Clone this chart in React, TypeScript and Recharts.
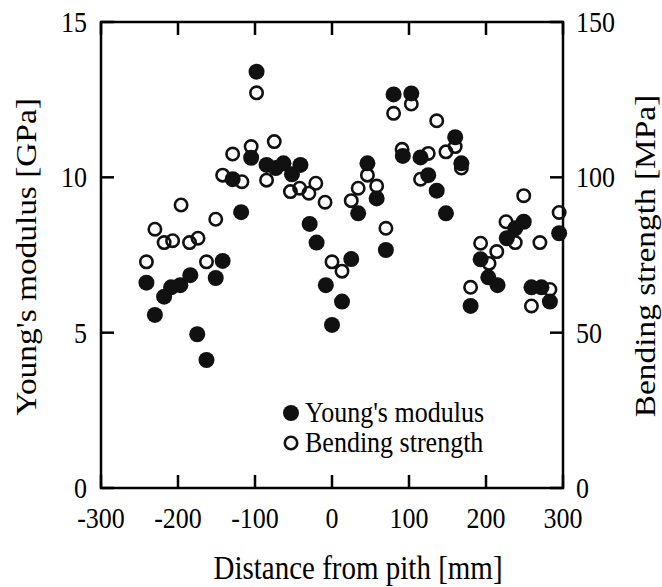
import React from 'react';
import { ScatterChart, Scatter, XAxis, YAxis, ReferenceArea, Legend } from 'recharts';

// Young's modulus [GPa] vs distance from pith [mm]
const youngDistance = [
  -241, -230, -218, -209, -197, -184, -175, -163, -151, -142, -129, -118, -105, -98,
  -85, -73, -63, -52, -41, -29, -20, -8, 0, 13, 25, 34, 46, 58, 70, 80, 92, 103,
  115, 125, 136, 148, 160, 168, 180, 193, 203, 215, 227, 238, 249, 259, 272, 283, 295,
];
const youngModulus = [
  6.61, 5.57, 6.16, 6.46, 6.53, 6.85, 4.95, 4.12, 6.76, 7.31, 9.94, 8.88, 10.63, 13.4,
  10.4, 10.3, 10.45, 10.1, 10.4, 8.5, 7.9, 6.53, 5.25, 6.0, 7.37, 8.84, 10.45, 9.32, 7.66, 12.67, 10.69, 12.7,
  10.64, 10.07, 9.57, 8.84, 11.29, 10.45, 5.86, 7.36, 6.78, 6.53, 8.04, 8.36, 8.57, 6.46, 6.46, 6.0, 8.2,
];

// Bending strength [MPa] vs distance from pith [mm]
const bendDistance = [
  -241, -230, -218, -207, -196, -185, -174, -163, -151, -142, -129, -117, -105, -98,
  -85, -75, -54, -42, -30, -21, -9, 0, 13, 25, 34, 46, 58, 70, 80, 91, 103,
  115, 125, 136, 148, 160, 168, 180, 193, 204, 214, 226, 238, 249, 259, 270, 283, 295,
];
const bendStrength = [
  72.8, 83.3, 79.0, 79.6, 91.1, 79.0, 80.4, 72.8, 86.5, 100.7, 107.5, 98.6, 109.9, 127.2,
  99.1, 111.5, 95.4, 96.5, 94.9, 98.1, 92.0, 72.8, 69.8, 92.5, 96.5, 100.7, 97.2, 83.6, 120.6, 109.0, 123.6,
  99.4, 107.7, 118.2, 108.2, 109.9, 103.0, 64.6, 78.8, 72.3, 76.1, 85.7, 79.0, 94.1, 58.6, 79.0, 63.9, 88.7,
];

const xTicks = [-300, -200, -100, 0, 100, 200, 300];
const leftTicks = [0, 5, 10, 15];
const rightTicks = [0, 50, 100, 150];

const youngData = youngDistance.map((x, i) => ({ x, y: youngModulus[i] }));
const bendData = bendDistance.map((x, i) => ({ x, y: bendStrength[i] }));

const PLOT_LEFT = 101;
const PLOT_RIGHT = 563;
const PLOT_TOP = 22;
const PLOT_BOTTOM = 488;
const TICK = 13;
const FONT = '"Liberation Serif", "Times New Roman", serif';
const FS = 26; // tick + legend text
const TITLE_FS = 29;
const STRETCH = 1.15; // the scanned figure's text is a bit taller than wide

// text drawn at (x, y), stretched vertically on the page
const Txt = ({ x, y, anchor = 'middle', size = FS, rotate = 0, children }: any) => (
  <text
    transform={`translate(${x},${y}) scale(1,${STRETCH}) rotate(${rotate})`}
    textAnchor={anchor}
    dominantBaseline="central"
    fontFamily={FONT}
    fontSize={size}
    fill="#000"
  >
    {children}
  </text>
);

const BottomTick = (props: any) => {
  const { x, payload } = props;
  return (
    <g>
      <line x1={x} x2={x} y1={PLOT_BOTTOM} y2={PLOT_BOTTOM - TICK} stroke="#000" strokeWidth={2.5} />
      <line x1={x} x2={x} y1={PLOT_TOP} y2={PLOT_TOP + TICK} stroke="#000" strokeWidth={2.5} />
      <Txt x={x} y={518}>{payload.value}</Txt>
    </g>
  );
};

const LeftTick = (props: any) => {
  const { y, payload } = props;
  return (
    <g>
      <line x1={PLOT_LEFT} x2={PLOT_LEFT + TICK} y1={y} y2={y} stroke="#000" strokeWidth={2.5} />
      <Txt x={87} y={y} anchor="end">{payload.value}</Txt>
    </g>
  );
};

const RightTick = (props: any) => {
  const { y, payload } = props;
  return (
    <g>
      <line x1={PLOT_RIGHT} x2={PLOT_RIGHT - TICK} y1={y} y2={y} stroke="#000" strokeWidth={2.5} />
      <Txt x={576} y={y} anchor="start">{payload.value}</Txt>
    </g>
  );
};

const XTitle = () => (
  <Txt x={358} y={568} size={TITLE_FS}>Distance from pith [mm]</Txt>
);
const LeftTitle = () => (
  <Txt x={26} y={257} size={TITLE_FS} rotate={-90}>Young's modulus [GPa]</Txt>
);
const RightTitle = () => (
  <Txt x={645} y={256} size={TITLE_FS} rotate={-90}>Bending strength [MPa]</Txt>
);

const FilledDot = (p: any) => <circle cx={p.cx} cy={p.cy} r={8} fill="#111" />;
const OpenDot = (p: any) => <circle cx={p.cx} cy={p.cy} r={6.2} fill="none" stroke="#111" strokeWidth={2.6} />;

const legendRows = [
  { name: "Young's modulus", filled: true },
  { name: 'Bending strength', filled: false },
];

const LegendBox = () => (
  <div style={{ fontFamily: FONT, fontSize: FS, color: '#000' }}>
    {legendRows.map((r) => (
      <div key={r.name} style={{ display: 'flex', alignItems: 'center', height: 30 }}>
        <svg width={18} height={18} style={{ display: 'block' }}>
          {r.filled ? (
            <circle cx={9} cy={9} r={8} fill="#111" />
          ) : (
            <circle cx={9} cy={9} r={6.2} fill="none" stroke="#111" strokeWidth={2.6} />
          )}
        </svg>
        <span
          style={{
            marginLeft: 5,
            lineHeight: '30px',
            whiteSpace: 'nowrap',
            display: 'inline-block',
            transform: `scaleY(${STRETCH})`,
          }}
        >
          {r.name}
        </span>
      </div>
    ))}
  </div>
);

export default function App() {
  return (
    <div style={{ position: 'absolute', left: 0, top: 0, background: '#fff', fontFamily: FONT }}>
      <ScatterChart width={662} height={587} margin={{ top: PLOT_TOP, right: 0, bottom: 0, left: 0 }}>
        <XAxis
          type="number"
          dataKey="x"
          domain={[-300, 300]}
          ticks={xTicks}
          interval={0}
          height={99}
          axisLine={false}
          tickLine={false}
          tick={<BottomTick />}
          label={<XTitle />}
        />
        <YAxis
          yAxisId="left"
          type="number"
          dataKey="y"
          domain={[0, 15]}
          ticks={leftTicks}
          interval={0}
          width={101}
          axisLine={false}
          tickLine={false}
          tick={<LeftTick />}
          label={<LeftTitle />}
        />
        <YAxis
          yAxisId="right"
          orientation="right"
          type="number"
          dataKey="y"
          domain={[0, 150]}
          ticks={rightTicks}
          interval={0}
          width={99}
          axisLine={false}
          tickLine={false}
          tick={<RightTick />}
          label={<RightTitle />}
        />
        <ReferenceArea
          yAxisId="left"
          x1={-300}
          x2={300}
          y1={0}
          y2={15}
          fill="none"
          fillOpacity={0}
          stroke="#000"
          strokeWidth={2.5}
          ifOverflow="visible"
        />
        <Scatter
          name="Bending strength"
          data={bendData}
          yAxisId="right"
          shape={OpenDot}
          isAnimationActive={false}
        />
        <Scatter
          name="Young's modulus"
          data={youngData}
          yAxisId="left"
          shape={FilledDot}
          isAnimationActive={false}
        />
        <Legend
          layout="vertical"
          align="center"
          verticalAlign="middle"
          content={() => <LegendBox />}
          wrapperStyle={{ left: 282, top: 398, width: 'auto' }}
        />
      </ScatterChart>
    </div>
  );
}
